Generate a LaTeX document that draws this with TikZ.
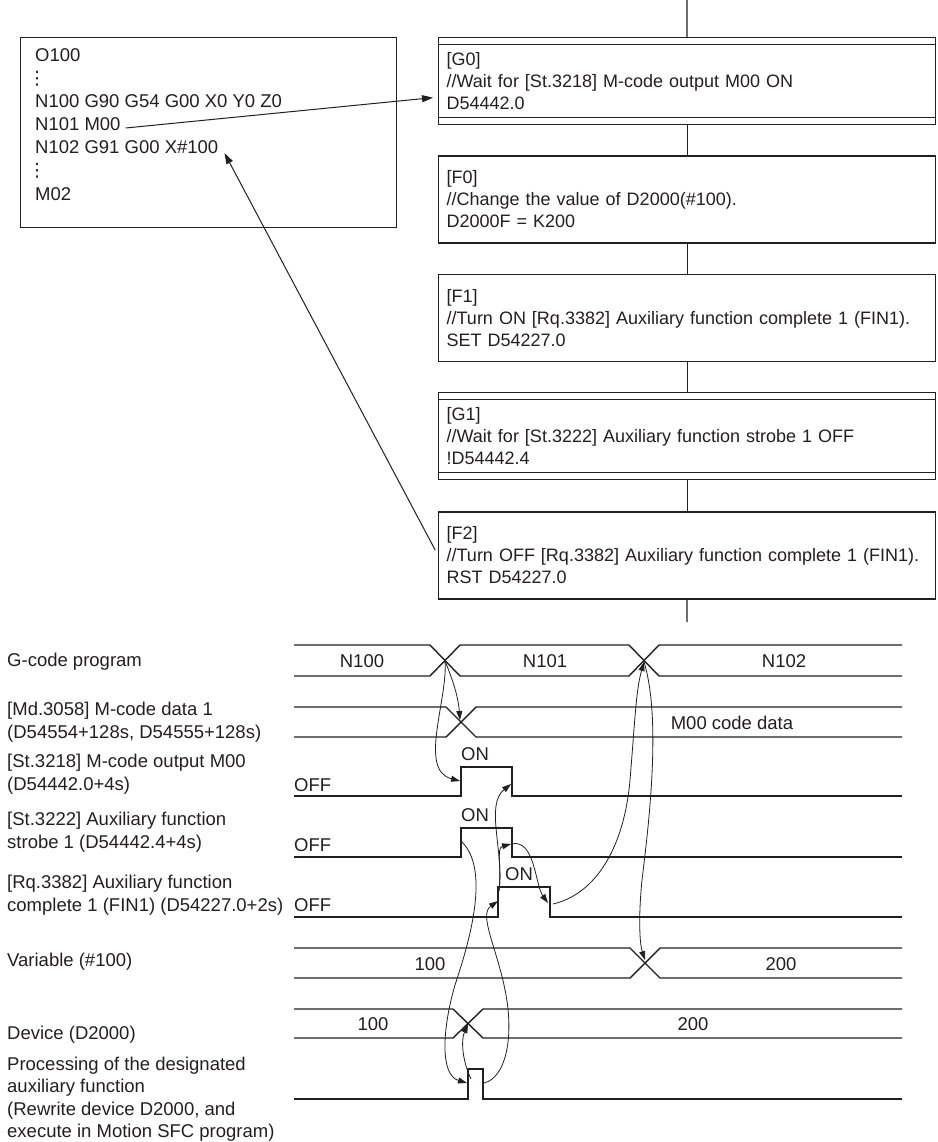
\documentclass[tikz,border=0pt]{standalone}
\usepackage{fontspec}
\setmainfont{Liberation Sans}
\newfontfamily\symfont{DejaVu Sans}
\usepackage{tikz}
\usetikzlibrary{arrows.meta, positioning}
\definecolor{ink}{HTML}{231F20}

\begin{document}
\begin{tikzpicture}[
    x=1pt, y=-1pt,
    font=\fontsize{18.5pt}{22.5pt}\selectfont,
    every node/.style={text=ink},
    progbox/.style={
        rectangle, draw=ink, line width=1.3pt,
        minimum width=376pt, minimum height=190pt, anchor=north west
    },
    codeline/.style={anchor=west, inner sep=0pt},
    sfcstep/.style={
        rectangle, draw=ink, line width=1.3pt,
        minimum width=497pt, minimum height=87pt,
        text width=481pt, align=left, inner xsep=8pt,
        font=\fontsize{18pt}{22pt}\selectfont
    },
    sfctrans/.style={
        sfcstep,
        path picture={
            \draw[ink, line width=1.3pt]
                ([yshift=-7pt]path picture bounding box.north west) -- ([yshift=-7pt]path picture bounding box.north east)
                ([yshift=7pt]path picture bounding box.south west) -- ([yshift=7pt]path picture bounding box.south east);
        }
    },
    link/.style={draw=ink, line width=1.3pt},
    ptr/.style={draw=ink, line width=1pt, -{Triangle[length=11pt, width=7pt]}},
    sigtitle/.style={anchor=west, align=left, inner sep=0pt},
    wave/.style={draw=ink, line width=1.4pt},
    lvl/.style={anchor=south west, inner sep=0pt},
    val/.style={inner sep=0pt},
    cause/.style={draw=ink, line width=0.8pt, -{Triangle[length=9pt, width=6pt]}}
]
\useasboundingbox (0,0) rectangle (937,1142);

% G-code program
\node[progbox] (prog) at (20,37) {};
\node[codeline] (c0) at (35,55) {O100};
\node (cdots1) at (37,79) {\symfont ⋮};
\node[codeline] (c100) at (35,101) {N100 G90 G54 G00 X0 Y0 Z0};
\node[codeline] (c101) at (35,124) {N101 M00};
\node[codeline] (c102) at (35,147) {N102 G91 G00 X\#100};
\node (cdots2) at (37,171) {\symfont ⋮};
\node[codeline] (c02) at (35,194) {M02};

% Motion SFC program
\coordinate (sfctop) at (687,0);
\node[sfctrans, anchor=north west] (g0) at (438,37) {
    [G0]\\
    //Wait for [St.3218] M-code output M00 ON\\
    D54442.0
};
\node[sfcstep, below=30pt of g0] (f0) {
    [F0]\\
    //Change the value of D2000(\#100).\\
    D2000F = K200
};
\node[sfcstep, below=30pt of f0] (f1) {
    [F1]\\
    //Turn ON [Rq.3382] Auxiliary function complete 1 (FIN1).\\
    SET D54227.0
};
\node[sfctrans, below=30pt of f1] (g1) {
    [G1]\\
    //Wait for [St.3222] Auxiliary function strobe 1 OFF\\
    !D54442.4
};
\node[sfcstep, below=31pt of g1] (f2) {
    [F2]\\
    //Turn OFF [Rq.3382] Auxiliary function complete 1 (FIN1).\\
    RST D54227.0
};
\coordinate (sfcend) at (687,622);

\draw[link] (sfctop) -- (g0);
\draw[link] (g0) -- (f0);
\draw[link] (f0) -- (f1);
\draw[link] (f1) -- (g1);
\draw[link] (g1) -- (f2);
\draw[link] (f2) -- (sfcend);

\draw[ptr, shorten >=5pt] ([xshift=5pt, yshift=-4pt]c101.east) -- ([yshift=-16pt]g0.west);
\draw[ptr, shorten <=6pt] (f2.west) -- ([xshift=6pt, yshift=-6pt]c102.east);

% timing chart: signal names
\node[sigtitle] (tgcode) at (7,662) {G-code program};
\node[sigtitle] (tmcode) at (7,722) {[Md.3058] M-code data 1\\(D54554+128s, D54555+128s)};
\node[sigtitle] (tm00) at (7,774) {[St.3218] M-code output M00\\(D54442.0+4s)};
\node[sigtitle] (tstb) at (7,832) {[St.3222] Auxiliary function\\strobe 1 (D54442.4+4s)};
\node[sigtitle] (tfin) at (7,895) {[Rq.3382] Auxiliary function\\complete 1 (FIN1) (D54227.0+2s)};
\node[sigtitle] (tvar) at (7,962) {Variable (\#100)};
\node[sigtitle] (tdev) at (7,1035) {Device (D2000)};
\node[sigtitle] (tproc) at (7,1099) {Processing of the designated\\auxiliary function\\(Rewrite device D2000, and\\execute in Motion SFC program)};

% timing chart: waveforms
\draw[wave] (294,645) -- (430,645) -- (460,676) -- (629,676) -- (659,645) -- (902,645);
\draw[wave] (294,676) -- (430,676) -- (460,645) -- (629,645) -- (659,676) -- (902,676);
\node[val] (n100) at (362,661) {N100};
\node[val] (n101) at (545,661) {N101};
\node[val] (n102) at (784,661) {N102};

\draw[wave] (294,707) -- (446,707) -- (476,737) -- (902,737);
\draw[wave] (294,737) -- (446,737) -- (476,707) -- (902,707);
\node[val] (mdata) at (732,723) {M00 code data};

\draw[wave] (294,796) -- (461,796) -- (461,767) -- (512,767) -- (512,796) -- (902,796);
\node[lvl] (m00off) at (294,792) {OFF};
\node[val] (m00on) at (475,754) {ON};

\draw[wave] (294,857) -- (461,857) -- (461,828) -- (512,828) -- (512,857) -- (902,857);
\node[lvl] (stboff) at (294,852) {OFF};
\node[val] (stbon) at (475,815) {ON};

\draw[wave] (294,917) -- (498,917) -- (498,887) -- (550,887) -- (550,917) -- (902,917);
\node[lvl] (finoff) at (294,912) {OFF};
\node[val] (finon) at (519,874) {ON};

\draw[wave] (294,948) -- (630,948) -- (660,978) -- (902,978);
\draw[wave] (294,978) -- (630,978) -- (660,948) -- (902,948);
\node[val] (var100) at (430,964) {100};
\node[val] (var200) at (781,964) {200};

\draw[wave] (294,1009) -- (453,1009) -- (483,1038) -- (902,1038);
\draw[wave] (294,1038) -- (453,1038) -- (483,1009) -- (902,1009);
\node[val] (dev100) at (373,1024) {100};
\node[val] (dev200) at (693,1024) {200};

\draw[wave] (294,1099) -- (468,1099) -- (468,1069) -- (483,1069) -- (483,1099) -- (902,1099);

% timing chart: events
\coordinate (gcx1) at (445,661);
\coordinate (mdx) at (460,720);
\coordinate (m00up) at (460,781);
\coordinate (m00dn) at (511,784);
\coordinate (stbup) at (462,842);
\coordinate (stbdn) at (511,844);
\coordinate (finup) at (498,901);
\coordinate (finsrc) at (499,891);
\coordinate (findn) at (548,903);
\coordinate (finsrc2) at (553,904);
\coordinate (gcx2) at (644,662);
\coordinate (varx) at (645,960);
\coordinate (devx) at (468,1024);
\coordinate (procup) at (467,1083);
\coordinate (proctop) at (471,1079);
\coordinate (procdn) at (484,1083);

\draw[cause] (gcx1) .. controls (452,678) and (458,695) .. (mdx);
\draw[cause] (gcx1) .. controls (448,700) and (418,770) .. (m00up);
\draw[cause] (stbup) .. controls (490,870) and (470,940) .. (455,985) .. controls (442,1030) and (440,1075) .. (procup);
\draw[cause] (procdn) .. controls (505,1078) and (514,1040) .. (506,995) .. controls (498,950) and (478,915) .. (finup);
\draw[cause] (proctop) .. controls (462,1060) and (461,1040) .. (devx);
\draw[cause] (finsrc) .. controls (504,850) and (485,805) .. (m00dn);
\draw[cause] (finsrc) .. controls (502,868) and (496,848) .. (stbdn);
\draw[cause] (stbdn) .. controls (535,838) and (535,885) .. (findn);
\draw[cause] (finsrc2) .. controls (600,893) and (625,840) .. (630,780) .. controls (635,720) and (636,690) .. (gcx2);
\draw[cause] (gcx2) .. controls (662,720) and (648,830) .. (642,880) .. controls (638,920) and (640,945) .. (varx);

\end{tikzpicture}
\end{document}
